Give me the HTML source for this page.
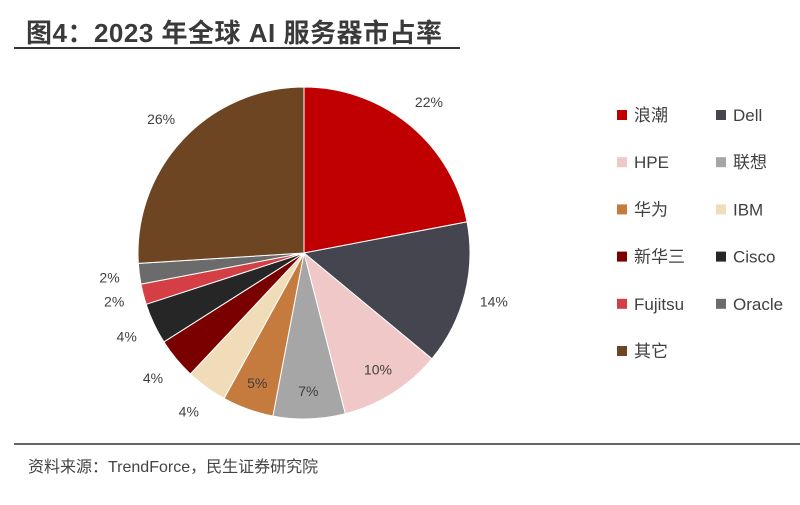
<!DOCTYPE html>
<html><head><meta charset="utf-8"><style>
body{margin:0;width:800px;height:500px;background:#fff;overflow:hidden;font-family:"Liberation Sans","Noto Sans CJK SC",sans-serif;}
</style></head><body>
<svg width="800" height="500">
<text x="26" y="42" font-size="26" font-weight="bold" fill="#3a3a3a" letter-spacing="0.5" font-family="Liberation Sans, Noto Sans CJK SC, sans-serif">图4：2023 年全球 AI 服务器市占率</text>
<line x1="14" y1="48" x2="460" y2="48" stroke="#333" stroke-width="2"/>
<g id="pie"></g>
<g id="legend"></g>
<line x1="14" y1="444" x2="800" y2="444" stroke="#333" stroke-width="1.5"/>
<text x="28" y="472" font-size="16" fill="#444" font-family="Liberation Sans, Noto Sans CJK SC, sans-serif">资料来源：TrendForce，民生证券研究院</text>
</svg>
<script>
const categories=["浪潮","Dell","HPE","联想","华为","IBM","新华三","Cisco","Fujitsu","Oracle","其它"];
const values=[22,14,10,7,5,4,4,4,2,2,26];
const labels=["22%","14%","10%","7%","5%","4%","4%","4%","2%","2%","26%"];
const colors=["#c00000","#45454f","#f0c8c8","#a6a6a6","#c57a3e","#f0dcb8","#7a0000","#262626","#d43f45","#6b6b6b","#6e4522"];
const NS="http://www.w3.org/2000/svg";
const cx=304,cy=253,r=166;
const total=values.reduce((a,b)=>a+b,0);
const pie=document.getElementById('pie');
const pt=(a,rr)=>[cx+rr*Math.sin(a),cy-rr*Math.cos(a)];
let acc=0;
values.forEach((v,i)=>{
  const a0=acc/total*2*Math.PI; acc+=v; const a1=acc/total*2*Math.PI;
  const [x0,y0]=pt(a0,r),[x1,y1]=pt(a1,r);
  const p=document.createElementNS(NS,'path');
  p.setAttribute('d',`M${cx},${cy}L${x0},${y0}A${r},${r} 0 ${a1-a0>Math.PI?1:0} 1 ${x1},${y1}Z`);
  p.setAttribute('fill',colors[i]);p.setAttribute('stroke','#fff');p.setAttribute('stroke-width','1');
  
  
  pie.appendChild(p);
  const am=(a0+a1)/2;
  const inside=(i>=2&&i<=4);
  const [lx,ly]=pt(am,inside?r-28:r+30);
  const t=document.createElementNS(NS,'text');
  t.setAttribute('x',lx);t.setAttribute('y',ly+5);t.setAttribute('text-anchor','middle');
  t.setAttribute('font-size','14');t.setAttribute('fill','#404040');
  t.textContent=labels[i];
  
  
  pie.appendChild(t);
});
const lg=document.getElementById('legend');
categories.forEach((c,i)=>{
  const col=i%2,row=Math.floor(i/2);
  const x=col?716:617,y=115+row*47.2;
  const g=document.createElementNS(NS,'g');
  
  
  const s=document.createElementNS(NS,'rect');
  s.setAttribute('x',x);s.setAttribute('y',y-5);s.setAttribute('width',10);s.setAttribute('height',10);s.setAttribute('fill',colors[i]);
  g.appendChild(s);
  const t=document.createElementNS(NS,'text');
  t.setAttribute('x',x+17);t.setAttribute('y',y+6);t.setAttribute('font-size','17');t.setAttribute('fill','#404040');
  t.textContent=c;g.appendChild(t);
  lg.appendChild(g);
});
</script>
</body></html>
